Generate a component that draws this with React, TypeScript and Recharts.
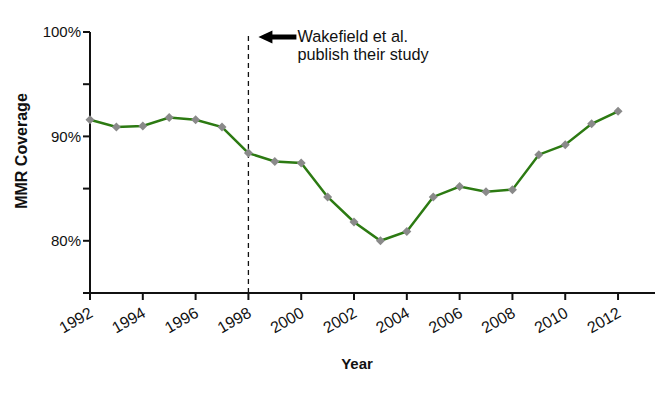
import React from 'react';
import { LineChart, Line, XAxis, YAxis, ReferenceLine } from 'recharts';

const years = [1992, 1993, 1994, 1995, 1996, 1997, 1998, 1999, 2000, 2001, 2002, 2003, 2004, 2005, 2006, 2007, 2008, 2009, 2010, 2011, 2012];
const coverage = [91.6, 90.9, 91.0, 91.8, 91.6, 90.9, 88.4, 87.6, 87.45, 84.2, 81.8, 80.0, 80.9, 84.2, 85.2, 84.7, 84.9, 88.25, 89.2, 91.2, 92.4];
const xTicks = [1992, 1994, 1996, 1998, 2000, 2002, 2004, 2006, 2008, 2010, 2012];
const yTicks = [75, 80, 85, 90, 95, 100];
const studyYear = 1998;
const annotationLines = ['Wakefield et al.', 'publish their study'];

const data = years.map((y, i) => ({ year: y, value: coverage[i] }));

const FONT = 'Arial, Helvetica, sans-serif';

const XTick = (props: any) => {
  const { x, y, payload } = props;
  return (
    <g transform={`translate(${x},${y})`}>
      <text x={4} y={14} transform="rotate(-30, 4, 14)" textAnchor="end" fontSize={16} fill="#111" fontFamily={FONT}>
        {payload.value}
      </text>
    </g>
  );
};

const Diamond = (props: any) => {
  const { cx, cy, index } = props;
  const r = 4.5;
  return <path key={`d${index}`} d={`M${cx},${cy - r}L${cx + r},${cy}L${cx},${cy + r}L${cx - r},${cy}Z`} fill="#8a8a8a" />;
};

const Annotation = (props: any) => {
  const { viewBox } = props;
  const x = viewBox.x;
  const y = viewBox.y;
  const ay = y + 5;
  return (
    <g>
      <path d={`M${x + 10},${ay}L${x + 24},${ay - 6.5}L${x + 24},${ay - 2.5}L${x + 48},${ay - 2.5}L${x + 48},${ay + 2.5}L${x + 24},${ay + 2.5}L${x + 24},${ay + 6.5}Z`} fill="#000" />
      {annotationLines.map((t, i) => (
        <text key={i} x={x + 49} y={y + 10 + i * 18} fontSize={16.3} fill="#111" fontFamily={FONT}>
          {t}
        </text>
      ))}
    </g>
  );
};

const YLabel = (props: any) => {
  const { viewBox } = props;
  const cx = viewBox.x + 21;
  const cy = 151;
  return (
    <text x={cx} y={cy} transform={`rotate(-90, ${cx}, ${cy})`} textAnchor="middle" dominantBaseline="central" fontSize={16} fontWeight="bold" fill="#111" fontFamily={FONT}>
      MMR Coverage
    </text>
  );
};

const XLabel = (props: any) => {
  const { viewBox } = props;
  return (
    <text x={viewBox.x + 267} y={viewBox.y + 70} textAnchor="middle" dominantBaseline="central" fontSize={15} fontWeight="bold" fill="#111" fontFamily={FONT}>
      Year
    </text>
  );
};

export default function App() {
  return (
    <div style={{ position: 'absolute', left: 0, top: 0, width: 672, height: 394, background: '#fff', fontFamily: FONT }}>
      <LineChart width={672} height={394} data={data} margin={{ top: 32, right: 17, bottom: 0, left: 0 }}>
        <XAxis
          dataKey="year"
          type="number"
          domain={[1992, 2013.4]}
          ticks={xTicks}
          interval={0}
          height={101}
          tick={<XTick />}
          tickSize={7}
          tickMargin={2}
          axisLine={{ stroke: '#111', strokeWidth: 2 }}
          tickLine={{ stroke: '#111', strokeWidth: 2 }}
          label={<XLabel />}
        />
        <YAxis
          type="number"
          domain={[75, 100]}
          ticks={yTicks}
          interval={0}
          width={90}
          tickSize={7}
          tickMargin={2}
          tickFormatter={(v: number) => (v % 10 === 0 ? `${v}%` : '')}
          tick={{ fontSize: 15, fill: '#111', fontFamily: FONT }}
          axisLine={{ stroke: '#111', strokeWidth: 2 }}
          tickLine={{ stroke: '#111', strokeWidth: 2 }}
          label={<YLabel />}
        />
        <ReferenceLine x={studyYear} stroke="#111" strokeWidth={1.3} strokeDasharray="5 4" label={<Annotation />} />
        <Line
          type="linear"
          dataKey="value"
          stroke="#2c7a12"
          strokeWidth={2.5}
          dot={<Diamond />}
          activeDot={false}
          isAnimationActive={false}
        />
      </LineChart>
    </div>
  );
}
